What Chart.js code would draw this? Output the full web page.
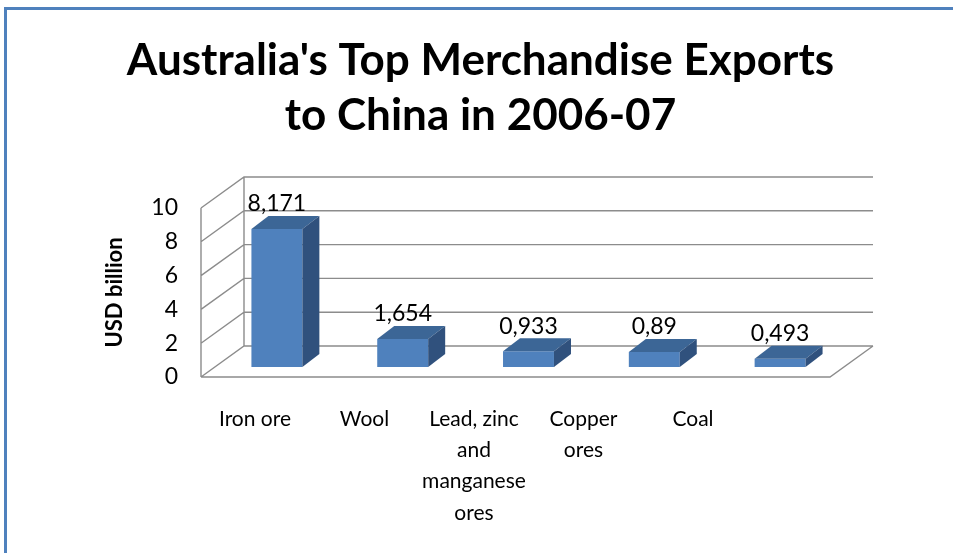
<!DOCTYPE html>
<html>
<head>
<meta charset="utf-8">
<title>Australia's Top Merchandise Exports to China in 2006-07</title>
<script src="https://cdn.jsdelivr.net/npm/chart.js@4.4.0/dist/chart.umd.min.js"></script>
<style>
    html, body { margin: 0; padding: 0; background: #fff; }
</style>
</head>
<body>
<canvas id="myChart" width="953" height="553"></canvas>
<script>
// chart data
var categories = ['Iron ore', 'Wool', 'Lead, zinc and manganese ores', 'Copper ores', 'Coal'];
var tickLabels = [['Iron ore'], ['Wool'], ['Lead, zinc', 'and', 'manganese', 'ores'], ['Copper', 'ores'], ['Coal']];
var exportValues = [8.171, 1.654, 0.933, 0.89, 0.493];
var yTicks = [0, 2, 4, 6, 8, 10];

var FONT = 'Lato, "Open Sans", sans-serif';

// fake 3D: offsets from the front plane
var BACK = { dx: 43, dy: -31 };   // back wall
var SLOT = { dx: 13, dy: -10 };   // plane the bars stand in
var DEPTH = { dx: 17, dy: -13 };  // thickness of each bar

var walls3d = {
    id: 'walls3d',
    beforeDraw: function (chart) {
        var ctx = chart.ctx;
        ctx.save();
        ctx.fillStyle = '#fff';
        ctx.fillRect(0, 0, chart.width, chart.height);
        // blue frame, top and left
        ctx.fillStyle = '#4f81bd';
        ctx.fillRect(4, 7, chart.width - 4, 3);
        ctx.fillRect(4, 7, 3, chart.height - 7);
        ctx.restore();
    },
    beforeDatasetsDraw: function (chart) {
        var ctx = chart.ctx, a = chart.chartArea, y = chart.scales.y;
        var top = y.getPixelForValue(yTicks[yTicks.length - 1]);
        var bot = y.getPixelForValue(0);
        ctx.save();
        ctx.strokeStyle = '#8c8c8c';
        ctx.lineWidth = 1.4;
        ctx.beginPath();
        // side wall diagonals + back wall gridlines
        yTicks.forEach(function (v) {
            var py = y.getPixelForValue(v);
            ctx.moveTo(a.left, py);
            ctx.lineTo(a.left + BACK.dx, py + BACK.dy);
            ctx.lineTo(a.right + BACK.dx, py + BACK.dy);
        });
        // side wall edges
        ctx.moveTo(a.left, top);
        ctx.lineTo(a.left, bot);
        ctx.moveTo(a.left + BACK.dx, top + BACK.dy);
        ctx.lineTo(a.left + BACK.dx, bot + BACK.dy);
        // floor front and right edge
        ctx.moveTo(a.left, bot);
        ctx.lineTo(a.right, bot);
        ctx.lineTo(a.right + BACK.dx, bot + BACK.dy);
        ctx.stroke();
        ctx.restore();

        // bars are drawn in the middle plane
        ctx.save();
        ctx.translate(SLOT.dx, SLOT.dy);
    },
    afterDatasetsDraw: function (chart) {
        var ctx = chart.ctx;
        var bars = chart.getDatasetMeta(0).data;
        bars.forEach(function (bar) {
            var l = bar.x - bar.width / 2, r = bar.x + bar.width / 2;
            // top face
            ctx.fillStyle = '#3c6696';
            ctx.beginPath();
            ctx.moveTo(l, bar.y);
            ctx.lineTo(l + DEPTH.dx, bar.y + DEPTH.dy);
            ctx.lineTo(r + DEPTH.dx, bar.y + DEPTH.dy);
            ctx.lineTo(r, bar.y);
            ctx.closePath();
            ctx.fill();
            // side face
            ctx.fillStyle = '#30517d';
            ctx.beginPath();
            ctx.moveTo(r, bar.y);
            ctx.lineTo(r + DEPTH.dx, bar.y + DEPTH.dy);
            ctx.lineTo(r + DEPTH.dx, bar.base + DEPTH.dy);
            ctx.lineTo(r, bar.base);
            ctx.closePath();
            ctx.fill();
        });
        ctx.restore();

        // value labels, decimal comma
        ctx.save();
        ctx.font = '23px ' + FONT;
        ctx.fillStyle = '#000';
        ctx.textAlign = 'center';
        ctx.textBaseline = 'middle';
        bars.forEach(function (bar, i) {
            var txt = String(exportValues[i]).replace('.', ',');
            ctx.fillText(txt, bar.x + SLOT.dx, bar.y + SLOT.dy - 25);
        });
        ctx.restore();
    }
};

var ctx = document.getElementById('myChart').getContext('2d');

var myChart = new Chart(ctx, {
    type: 'bar',
    data: {
        labels: categories,
        datasets: [{
            label: 'USD billion',
            data: exportValues,
            backgroundColor: '#4f81bd',
            borderWidth: 0,
            categoryPercentage: 1,
            barPercentage: 0.405
        }]
    },
    options: {
        responsive: false,
        animation: false,
        layout: { padding: { left: 8, right: 0, top: 0, bottom: 0 } },
        plugins: {
            legend: { display: false },
            tooltip: { enabled: false },
            title: {
                display: true,
                text: ["Australia's Top Merchandise Exports", 'to China in 2006-07'],
                color: '#000',
                font: { family: FONT, size: 44, weight: 'bold', lineHeight: 1.25 },
                padding: { top: 33, bottom: 65 }
            }
        },
        scales: {
            x: {
                display: false
            },
            // category names sit on their own axis, Excel places them off the bar centres
            xl: {
                type: 'linear',
                position: 'bottom',
                offset: false,
                min: -0.493,
                max: 5.251,
                grid: { display: false, drawTicks: false },
                border: { display: false },
                afterBuildTicks: function (scale) {
                    scale.ticks = tickLabels.map(function (t, i) { return { value: i }; });
                },
                afterFit: function (scale) { scale.height = 176; },
                ticks: {
                    autoSkip: false,
                    maxRotation: 0,
                    padding: 27,
                    color: '#000',
                    font: { family: FONT, size: 21, lineHeight: 1.48 },
                    callback: function (value) { return tickLabels[value] || ''; }
                }
            },
            y: {
                min: 0,
                max: 10,
                grid: { display: false, drawTicks: false },
                border: { display: false },
                afterFit: function (scale) { scale.width = 193; },
                ticks: {
                    stepSize: 2,
                    padding: 23,
                    color: '#000',
                    font: { family: FONT, size: 23 }
                },
                title: {
                    display: true,
                    text: 'USD billion',
                    color: '#000',
                    font: { family: FONT, size: 22, weight: 'bold' },
                    padding: { top: 94, bottom: 0 }
                }
            },
            // empty right axis keeps room for the floor's depth
            yr: {
                type: 'linear',
                position: 'right',
                grid: { display: false, drawTicks: false },
                border: { display: false },
                ticks: { display: false },
                afterFit: function (scale) { scale.width = 123; }
            }
        }
    },
    plugins: [walls3d]
});
</script>
</body>
</html>
